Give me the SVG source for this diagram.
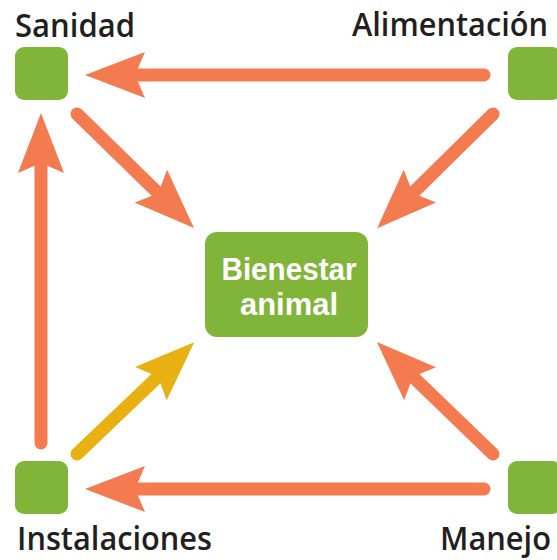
<svg xmlns="http://www.w3.org/2000/svg" width="557" height="560" viewBox="0 0 557 560">
<style>
.box{fill:#80B53A}
.lbl{font-family:"Open Sans","Noto Sans","Liberation Sans",sans-serif;font-weight:600;font-size:32px;fill:#231F20}
.ctr{font-family:"Liberation Sans",Arial,sans-serif;font-weight:700;font-size:31px;fill:#FFFFFF;text-anchor:middle}
.arr{fill:none;stroke:#F47B50;stroke-width:13;stroke-linecap:round;marker-end:url(#hO)}
.arr.y{stroke:#E8B010;marker-end:url(#hY)}
</style>
<defs>
<marker id="hO" viewBox="0 0 60 46" markerWidth="60" markerHeight="46" refX="30" refY="23" orient="auto" markerUnits="userSpaceOnUse">
<path d="M0,0 L60,23 L0,46 L10,23 Z" fill="#F47B50"/>
</marker>
<marker id="hY" viewBox="0 0 60 46" markerWidth="60" markerHeight="46" refX="30" refY="23" orient="auto" markerUnits="userSpaceOnUse">
<path d="M0,0 L60,23 L0,46 L10,23 Z" fill="#E8B010"/>
</marker>
</defs>
<g id="connectors">
<line class="arr" x1="484" y1="75" x2="115" y2="75"/>
<line class="arr" x1="484" y1="489" x2="115" y2="489"/>
<line class="arr" x1="41" y1="443" x2="41" y2="143"/>
<line class="arr" x1="77" y1="114" x2="172.5" y2="207.1"/>
<line class="arr" x1="493" y1="114" x2="398.5" y2="207.1"/>
<line class="arr" x1="493" y1="454" x2="398.5" y2="362.9"/>
<line class="arr y" x1="77" y1="454" x2="172.5" y2="362.9"/>
</g>
<g id="sanidad">
<rect class="box" x="15" y="47" width="53" height="53" rx="9"/>
<text class="lbl" x="15" y="37" textLength="120" lengthAdjust="spacingAndGlyphs">Sanidad</text>
</g>
<g id="alimentacion">
<rect class="box" x="508" y="47" width="53" height="53" rx="9"/>
<text class="lbl" x="352" y="36" textLength="196" lengthAdjust="spacingAndGlyphs">Alimentación</text>
</g>
<g id="instalaciones">
<rect class="box" x="15" y="461" width="53" height="53" rx="9"/>
<text class="lbl" x="17" y="550" textLength="195" lengthAdjust="spacingAndGlyphs">Instalaciones</text>
</g>
<g id="manejo">
<rect class="box" x="508" y="461" width="53" height="53" rx="9"/>
<text class="lbl" x="440" y="550" textLength="111" lengthAdjust="spacingAndGlyphs">Manejo</text>
</g>
<g id="bienestar">
<rect class="box" x="205" y="232" width="163" height="105" rx="12"/>
<text class="ctr" x="289" y="280" textLength="135" lengthAdjust="spacingAndGlyphs">Bienestar</text>
<text class="ctr" x="289" y="315" textLength="98" lengthAdjust="spacingAndGlyphs">animal</text>
</g>
</svg>
